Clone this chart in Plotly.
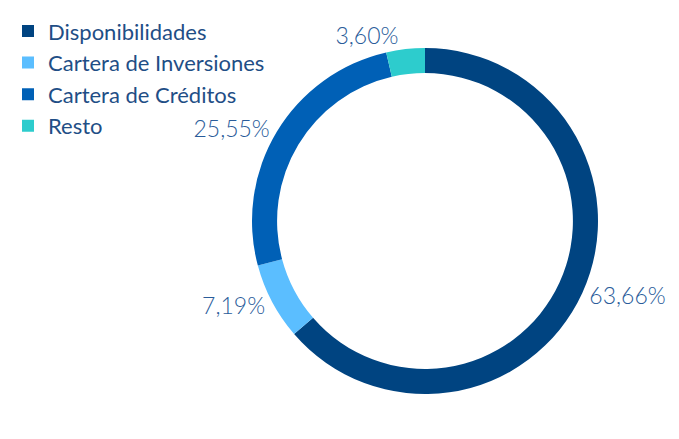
import plotly.graph_objects as go

categories = ["Disponibilidades", "Cartera de Inversiones", "Cartera de Créditos", "Resto"]
values = [63.66, 7.19, 25.55, 3.60]
colors = ["#004481", "#5BBEFF", "#0060B6", "#2DCCCD"]

W, H = 679, 439
cx, cy, r = 417, 213, 173

fig = go.Figure(go.Pie(
    labels=categories,
    values=values,
    sort=False,
    direction="clockwise",
    rotation=0,
    hole=0.855,
    marker=dict(colors=colors, line=dict(width=0)),
    textposition="outside",
    texttemplate="%{value:.2f}%",
    textfont=dict(family="Lato", size=23, color="#2A5C9A", weight=300),
    domain=dict(x=[(cx - r) / W, (cx + r) / W], y=[(H - cy - r) / H, (H - cy + r) / H]),
    showlegend=True,
))

fig.update_layout(
    width=W, height=H,
    margin=dict(l=0, r=0, t=0, b=0),
    paper_bgcolor="white",
    plot_bgcolor="white",
    separators=",.",
    legend=dict(x=0, y=0.995, xanchor="left", yanchor="top",
                bgcolor="rgba(0,0,0,0)",
                font=dict(family="Lato", size=22, color="#1F4E86"),
                itemwidth=30, tracegroupgap=0),
)

fig.write_html("out.html")
